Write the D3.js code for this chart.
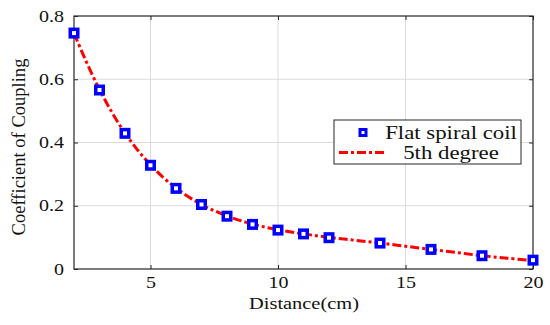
<!DOCTYPE html>
<html>
<head>
<meta charset="utf-8">
<script src="https://cdn.jsdelivr.net/npm/d3@7"></script>
<style>
  body { margin: 0; background: #fff; }
  svg text { font-family: 'Liberation Serif' !important; fill: #111; }
</style>
</head>
<body>
<div id="chart"></div>
<script>
const distance = [2, 3, 4, 5, 6, 7, 8, 9, 10, 11, 12, 14, 16, 18, 20];
const coupling = [0.746, 0.566, 0.429, 0.328, 0.255, 0.204, 0.167, 0.141, 0.123, 0.111, 0.099, 0.082, 0.062, 0.042, 0.028];
const fitX = [2, 3, 4, 5, 6, 7, 8, 9, 10, 11, 12, 13, 14, 15, 16, 17, 18, 19, 20];
const fitY = [0.745, 0.567, 0.430, 0.329, 0.256, 0.204, 0.168, 0.142, 0.124, 0.111, 0.100, 0.091, 0.082, 0.072, 0.062, 0.052, 0.042, 0.034, 0.027];
const xTicks = [5, 10, 15, 20];
const yTicks = [0, 0.2, 0.4, 0.6, 0.8];
const legendLabels = ['Flat spiral coil', '5th degree'];

const width = 550;
const height = 325;
const margin = {top: 16, right: 17, bottom: 56, left: 74};

const svg = d3.select('#chart').append('svg')
  .attr('width', width).attr('height', height);

const x = d3.scaleLinear().domain([2, 20]).range([margin.left, width - margin.right]);
const y = d3.scaleLinear().domain([0, 0.8]).range([height - margin.bottom, margin.top]);

// the picture is stretched sideways, so widen the glyphs a bit
function stretch(sel, k) {
  sel.each(function() {
    const w = this.getComputedTextLength();
    d3.select(this).attr('textLength', w * k).attr('lengthAdjust', 'spacingAndGlyphs');
  });
}

// grid
svg.append('g').selectAll('line').data(xTicks.slice(0, -1)).join('line')
  .attr('x1', d => x(d)).attr('x2', d => x(d))
  .attr('y1', y(0)).attr('y2', y(0.8))
  .attr('stroke', '#dcdcdc').attr('stroke-width', 1);
svg.append('g').selectAll('line').data(yTicks.slice(1, -1)).join('line')
  .attr('x1', x(2)).attr('x2', x(20))
  .attr('y1', d => y(d)).attr('y2', d => y(d))
  .attr('stroke', '#dcdcdc').attr('stroke-width', 1);

// axes
const fmtY = d => d === 0 ? '0' : d3.format('.1f')(d);
const axisStyle = g => {
  g.select('.domain').remove();
  g.selectAll('.tick line').attr('stroke', '#262626');
  g.selectAll('.tick text').attr('font-size', '16px');
};
const xAxis = svg.append('g').attr('transform', `translate(0,${y(0)})`)
  .call(d3.axisBottom(x).tickValues(xTicks).tickSize(-4).tickPadding(8))
  .call(axisStyle);
svg.append('g').attr('transform', `translate(0,${y(0.8)})`)
  .call(d3.axisTop(x).tickValues(xTicks).tickSize(-4).tickFormat(''))
  .call(axisStyle);
const yAxis = svg.append('g').attr('transform', `translate(${x(2)},0)`)
  .call(d3.axisLeft(y).tickValues(yTicks).tickSize(-4).tickPadding(10).tickFormat(fmtY))
  .call(axisStyle);
svg.append('g').attr('transform', `translate(${x(20)},0)`)
  .call(d3.axisRight(y).tickValues(yTicks).tickSize(-4).tickFormat(''))
  .call(axisStyle);
stretch(xAxis.selectAll('.tick text'), 1.25);
stretch(yAxis.selectAll('.tick text'), 1.25);

svg.append('rect')
  .attr('x', x(2)).attr('y', y(0.8))
  .attr('width', x(20) - x(2)).attr('height', y(0) - y(0.8))
  .attr('fill', 'none').attr('stroke', '#262626').attr('stroke-width', 1.2);

// fit line
const line = d3.line().x((d, i) => x(fitX[i])).y(d => y(d)).curve(d3.curveCatmullRom);
svg.append('path')
  .attr('d', line(fitY))
  .attr('fill', 'none').attr('stroke', '#ff0000').attr('stroke-width', 3)
  .attr('stroke-dasharray', '9,3,3,3');

// markers
const ms = 7.5;
svg.append('g').selectAll('rect').data(coupling).join('rect')
  .attr('x', (d, i) => x(distance[i]) - ms / 2)
  .attr('y', d => y(d) - ms / 2)
  .attr('width', ms).attr('height', ms)
  .attr('fill', '#fff').attr('stroke', '#0000ff').attr('stroke-width', 3.5);

// labels
svg.append('text')
  .attr('x', 304).attr('y', 309)
  .attr('text-anchor', 'middle').attr('font-size', '17px')
  .text('Distance(cm)')
  .call(stretch, 1.2);
svg.append('text')
  .attr('transform', `translate(25,147) rotate(-90)`)
  .attr('text-anchor', 'middle').attr('font-size', '18px')
  .text('Coefficient of Coupling')
  .call(stretch, 1.03);

// legend
const lg = svg.append('g');
lg.append('rect')
  .attr('x', 334).attr('y', 120).attr('width', 187).attr('height', 44)
  .attr('fill', '#fff').attr('stroke', '#262626').attr('stroke-width', 1);
lg.append('rect')
  .attr('x', 363 - 3).attr('y', 132.5 - 3).attr('width', 6).attr('height', 6)
  .attr('fill', '#fff').attr('stroke', '#0000ff').attr('stroke-width', 3);
lg.append('line')
  .attr('x1', 339).attr('x2', 386).attr('y1', 152.5).attr('y2', 152.5)
  .attr('stroke', '#ff0000').attr('stroke-width', 3).attr('stroke-dasharray', '9,3,3,3');
lg.selectAll('text.lbl').data(legendLabels).join('text')
  .attr('class', 'lbl')
  .attr('x', 451).attr('y', (d, i) => 139 + i * 20)
  .attr('text-anchor', 'middle').attr('font-size', '19px')
  .text(d => d)
  .call(stretch, 1.2);
</script>
</body>
</html>
